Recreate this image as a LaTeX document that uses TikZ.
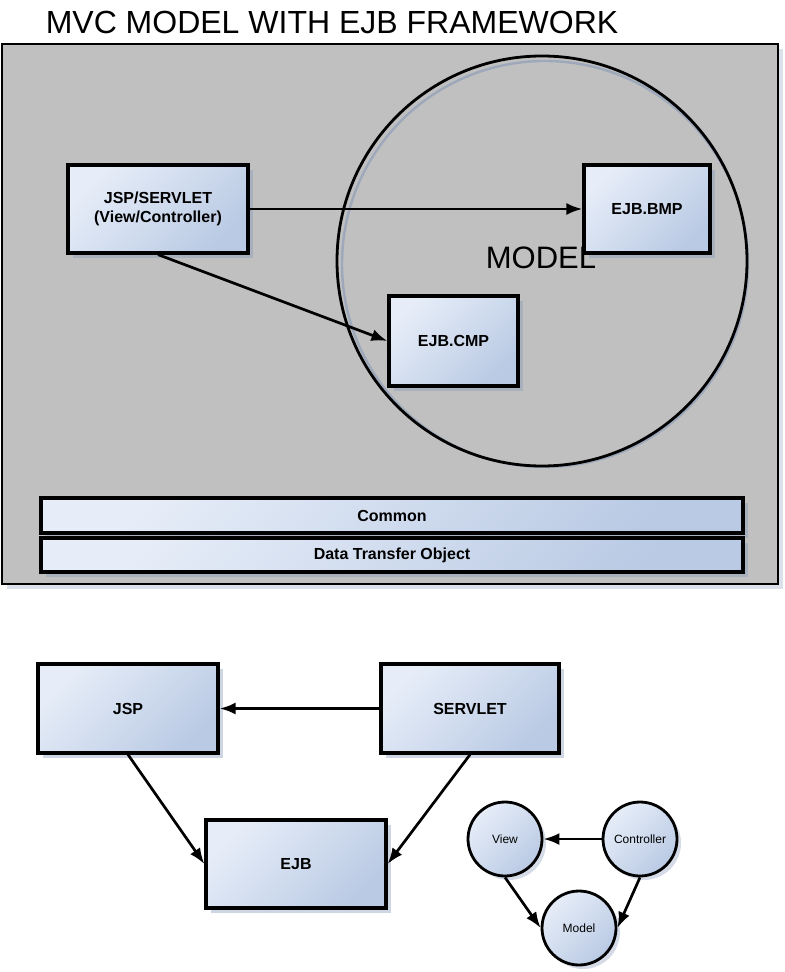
\documentclass[tikz,border=0pt]{standalone}
\usepackage{fontspec}
\setmainfont{Liberation Sans}
\usetikzlibrary{arrows.meta, shadows}

\definecolor{panelgray}{RGB}{192,192,192}
\definecolor{boxlight}{RGB}{230,237,248}
\definecolor{boxdark}{RGB}{186,202,228}
\definecolor{shadowblue}{RGB}{135,152,185}

\tikzset{
  box/.style={draw, line width=1.6pt, top color=boxlight, bottom color=boxdark, shading angle=45,
    inner sep=0pt, align=center, font=\fontsize{8}{9.6}\selectfont\bfseries,
    drop shadow={shadow xshift=2.5pt, shadow yshift=-2.5pt, fill=shadowblue, opacity=0.4}},
  ball/.style={circle, draw, line width=1.4pt, top color=boxlight, bottom color=boxdark, shading angle=45,
    minimum size=37pt, inner sep=0pt, font=\fontsize{6}{7}\selectfont,
    drop shadow={shadow xshift=2pt, shadow yshift=-2pt, fill=shadowblue, opacity=0.35}},
  arr/.style={-{Latex[length=8pt,width=6pt]}, line width=1.35pt}
}

\begin{document}
\begin{tikzpicture}[x=0.5pt, y=-0.5pt]
          \useasboundingbox (0,0) rectangle (784,972);
          \node [font=\fontsize{16}{19}\selectfont] (title) at (332, 22) {MVC MODEL WITH EJB FRAMEWORK};
          \path [draw, line width=1.2pt, fill=panelgray,
                 drop shadow={shadow xshift=2.5pt, shadow yshift=-2.5pt, fill=shadowblue, opacity=0.3}]
                (2, 44) rectangle (778, 584);
          \draw [shadowblue, line width=1.2pt, opacity=0.6] (545, 264) circle [radius=203];
          \draw [line width=1.4pt] (542, 261) circle [radius=205];
          % upper part
          \node [box, minimum width=90pt, minimum height=44pt] (jspsv) at (158, 209) {JSP/SERVLET\\(View/Controller)};
          \node [box, minimum width=63pt, minimum height=44pt] (bmp) at (647, 209) {EJB.BMP};
          \node [box, minimum width=64.5pt, minimum height=45pt] (cmp) at (453.5, 341) {EJB.CMP};
          \node [font=\fontsize{15.5}{18}\selectfont] (model) at (541, 258) {MODEL};
          \node [box, minimum width=351pt, minimum height=17.5pt] (com) at (392, 515.5) {Common};
          \node [box, minimum width=351pt, minimum height=17pt] (dto) at (392, 555) {Data Transfer Object};
          \draw [arr] (jspsv.east) -- (bmp.west);
          \draw [arr] (jspsv.south) -- (cmp.west);
          % lower part
          \node [box, minimum width=90pt, minimum height=44.5pt] (jsp) at (128, 708.5) {JSP};
          \node [box, minimum width=89pt, minimum height=44.5pt] (sv) at (470, 708.5) {SERVLET};
          \node [box, minimum width=90pt, minimum height=44pt] (ejb) at (296, 864) {EJB};
          \draw [arr] (sv.west) -- (jsp.east);
          \draw [arr] (jsp.south) -- (ejb.west);
          \draw [arr] (sv.south) -- (ejb.east);
          % small triangle
          \node [ball] (v) at (505, 839) {View};
          \node [ball] (c) at (640, 839) {Controller};
          \node [ball] (m) at (579, 928) {Model};
          \draw [arr] (c.west) -- (v.east);
          \draw [arr] (v.south) -- (m.west);
          \draw [arr] (c.south) -- (m.east);
        \end{tikzpicture}
\end{document}
